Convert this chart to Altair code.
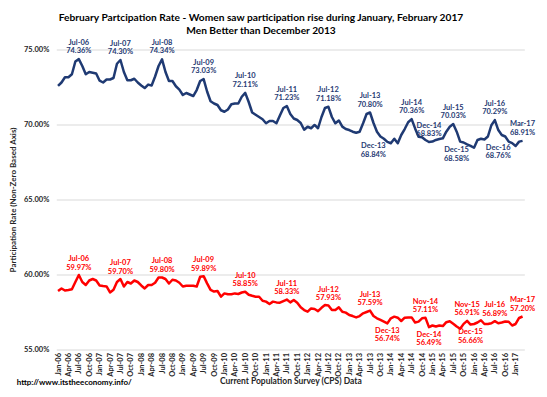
import altair as alt
import pandas as pd

MONTH_NAMES = ["Jan", "Feb", "Mar", "Apr", "May", "Jun", "Jul", "Aug", "Sep", "Oct", "Nov", "Dec"]
YEARS = ["06", "07", "08", "09", "10", "11", "12", "13", "14", "15", "16", "17"]
MONTHS = [f"{m}-{y}" for y in YEARS for m in MONTH_NAMES][:135]
QUARTER_TICKS = MONTHS[::3]

MEN = [
    72.57, 72.80, 73.15, 73.15, 73.35, 74.20, 74.36, 73.90, 73.35, 73.50, 73.45, 73.40,
    72.92, 72.80, 73.00, 73.00, 73.10, 74.05, 74.30, 73.50, 72.95, 72.95, 73.05, 72.80,
    72.60, 72.43, 72.66, 72.60, 73.20, 73.90, 74.34, 73.50, 72.90, 72.90, 72.55, 72.33,
    71.97, 72.10, 72.00, 71.90, 72.30, 72.90, 73.03, 72.20, 71.55, 71.40, 71.30, 70.95,
    70.85, 71.00, 71.35, 71.40, 71.40, 71.85, 72.11, 71.50, 70.80, 70.65, 70.50, 70.35,
    70.08, 70.23, 70.23, 70.08, 70.60, 71.10, 71.23, 70.70, 70.40, 70.30, 70.10, 69.65,
    69.85, 69.75, 69.97, 69.75, 70.50, 71.10, 71.18, 70.50, 70.08, 70.27, 69.86, 69.70,
    69.63, 69.52, 69.45, 69.52, 70.08, 70.70, 70.80, 70.10, 69.52, 69.20, 69.05, 68.84,
    68.75, 69.05, 68.75, 69.30, 69.70, 70.15, 70.36, 69.74, 69.19, 69.15, 68.97, 68.83,
    68.86, 68.97, 69.03, 69.08, 69.52, 69.85, 70.03, 69.52, 68.86, 68.80, 68.68, 68.58,
    68.45, 68.97, 69.05, 69.00, 69.20, 69.95, 70.29, 69.63, 69.30, 69.20, 68.86, 68.76,
    68.57, 68.86, 68.91,
]

WOMEN = [
    58.90, 59.07, 58.93, 58.97, 59.02, 59.50, 59.97, 59.50, 59.30, 59.60, 59.70, 59.60,
    59.27, 59.23, 59.20, 58.80, 58.98, 59.50, 59.70, 59.20, 59.50, 59.40, 59.60, 59.50,
    59.27, 59.07, 59.30, 59.30, 59.45, 59.80, 59.80, 59.70, 59.40, 59.65, 59.60, 59.45,
    59.20, 59.25, 59.25, 59.25, 59.20, 59.85, 59.89, 59.41, 58.97, 58.86, 58.90, 58.52,
    58.74, 58.68, 58.68, 58.74, 58.70, 58.80, 58.85, 58.65, 58.58, 58.52, 58.52, 58.25,
    58.19, 58.03, 58.19, 58.14, 58.12, 58.23, 58.33, 58.14, 58.30, 58.12, 57.81, 57.63,
    57.52, 57.74, 57.70, 57.56, 57.78, 57.96, 57.93, 57.63, 57.63, 57.81, 57.52, 57.46,
    57.30, 57.23, 57.14, 57.23, 57.41, 57.50, 57.59, 57.23, 57.08, 56.97, 56.86, 56.74,
    57.08, 57.19, 57.12, 56.90, 57.12, 57.14, 57.14, 56.80, 56.86, 57.08, 57.11, 56.49,
    56.60, 56.53, 56.60, 56.56, 56.82, 56.88, 56.71, 56.53, 56.38, 56.71, 56.91, 56.66,
    56.70, 56.80, 56.95, 56.70, 56.70, 56.75, 56.89, 56.75, 56.80, 56.87, 56.85, 56.60,
    56.70, 57.10, 57.20,
]

MEN_LABELS_ABOVE = ["Jul-06", "Jul-07", "Jul-08", "Jul-09", "Jul-10", "Jul-11", "Jul-12",
                    "Jul-13", "Jul-14", "Dec-14", "Jul-15", "Jul-16", "Mar-17"]
MEN_LABELS_LEFT = ["Dec-13", "Dec-15", "Dec-16"]
WOMEN_LABELS_ABOVE = ["Jul-06", "Jul-07", "Jul-08", "Jul-09", "Jul-10", "Jul-11", "Jul-12",
                      "Jul-13", "Nov-14", "Nov-15", "Jul-16", "Mar-17"]
WOMEN_LABELS_BELOW = ["Dec-13", "Dec-14", "Dec-15"]

TITLE_LINES = "February Partcipation Rate - Women saw participation rise during January, February 2017\nMen Better than December 2013"
Y_TITLE = "Participation Rate (Non-Zero Based Axis)"
X_TITLE = "Current Population Survey (CPS) Data"
SOURCE = "http://www.itstheeconomy.info/"

NAVY = "#1F3A73"
RED = "#FF0000"
FONT = "Lato"
W, H = 468, 300

long = pd.DataFrame({
    "month": MONTHS * 2,
    "value": MEN + WOMEN,
    "series": ["Men"] * len(MEN) + ["Women"] * len(WOMEN),
})


def label_frame(names, values):
    lookup = dict(zip(MONTHS, values))
    return pd.DataFrame({
        "month": names,
        "value": [lookup[n] for n in names],
        "text": [f"{n}\n{lookup[n]:.2f}%" for n in names],
    })


x_enc = alt.X(
    "month:O",
    scale=alt.Scale(domain=MONTHS, padding=0.5),
    axis=alt.Axis(
        values=QUARTER_TICKS, labelAngle=270, labelFont=FONT, labelFontSize=7.5,
        labelFontWeight="bold", labelColor="#262626", labelPadding=3, ticks=False,
        domain=False, grid=False, titleFont=FONT, titleFontSize=8.5, titleFontWeight="bold",
        titleColor="#262626", titleX=W / 2, titleY=31.5, titleBaseline="middle",
        titleAlign="center", labelOverlap=False,
    ),
    title=X_TITLE,
)
y_enc = alt.Y(
    "value:Q",
    scale=alt.Scale(domain=[55, 75], nice=False, zero=False),
    axis=alt.Axis(
        values=[55, 60, 65, 70, 75], labelExpr="format(datum.value, '.2f') + '%'",
        labelFont=FONT, labelFontSize=7.5, labelFontWeight="bold", labelColor="#262626",
        labelPadding=7.5, ticks=False, domain=False, grid=True, gridColor="#D9D9D9",
        gridWidth=1, titleFont=FONT, titleFontSize=8, titleFontWeight="bold",
        titleColor="#262626", titleX=-43, titleY=H / 2, titleAngle=270,
        titleBaseline="middle", titleAlign="center",
    ),
    title=Y_TITLE,
)

lines = alt.Chart(long).mark_line(strokeWidth=2.5, strokeJoin="round").encode(
    x=x_enc, y=y_enc,
    color=alt.Color("series:N", scale=alt.Scale(domain=["Men", "Women"], range=[NAVY, RED]), legend=None),
)


def text_layer(df, color, dx, dy):
    return alt.Chart(df).mark_text(
        lineBreak="\n", lineHeight=8.6, fontSize=7.5, fontWeight="bold", font=FONT,
        color=color, dx=dx, dy=dy, baseline="middle", align="center",
    ).encode(x=x_enc, y=y_enc, text="text:N")


men_above = text_layer(label_frame(MEN_LABELS_ABOVE, MEN), NAVY, 0, -16.5)
men_left = text_layer(label_frame(MEN_LABELS_LEFT, MEN), NAVY, -14, 4.5)
women_above = text_layer(label_frame(WOMEN_LABELS_ABOVE, WOMEN), RED, 0, -16)
women_below = text_layer(label_frame(WOMEN_LABELS_BELOW, WOMEN), RED, 0, 7.5)

title = alt.Chart(alt.Data(values=[{"t": TITLE_LINES}])).mark_text(
    lineBreak="\n", lineHeight=13, fontSize=10.2, fontWeight="bold", font=FONT,
    color="#000000", baseline="middle", align="center",
).encode(x=alt.value(204.7), y=alt.value(-31.5), text="t:N")

source = alt.Chart(alt.Data(values=[{"t": SOURCE}])).mark_text(
    fontSize=8, fontWeight="bold", font=FONT, color="#000000", baseline="middle", align="left",
).encode(x=alt.value(-39.6), y=alt.value(333.8), text="t:N")

chart = alt.layer(lines, men_above, men_left, women_above, women_below, title, source).properties(
    width=W, height=H,
    autosize=alt.AutoSizeParams(type="none"),
    padding={"left": 48.3, "top": 41.5, "right": 14, "bottom": 39},
    background="#FFFFFF",
).configure_view(strokeWidth=0)

chart.save("out.html", embed_options={"renderer": "svg", "actions": False})
